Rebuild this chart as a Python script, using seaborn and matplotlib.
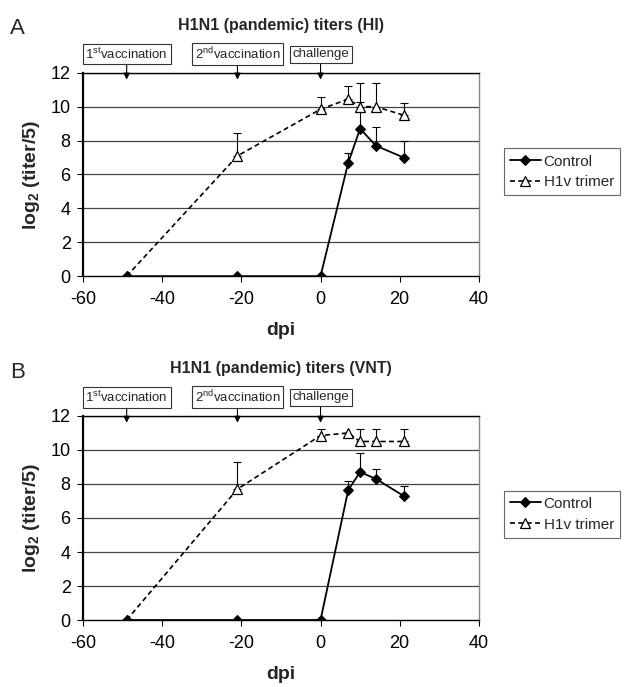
import numpy as np
import pandas as pd
import matplotlib
matplotlib.use("Agg")
import matplotlib.pyplot as plt
import seaborn as sns

sns.set_theme(style="white")
plt.rcParams['font.family'] = ['Liberation Sans', 'DejaVu Sans']
plt.rcParams['axes.unicode_minus'] = False

days = [-49, -21, 0, 7, 10, 14, 21]
series_names = ["Control", "H1v trimer"]

hi_control = [0, 0, 0, 6.7, 8.7, 7.7, 7.0]
hi_control_err = [0, 0, 0, 0.55, 1.6, 1.1, 1.0]
hi_trimer = [0, 7.1, 9.85, 10.45, 10.0, 10.0, 9.5]
hi_trimer_err = [0, 1.35, 0.7, 0.75, 1.4, 1.4, 0.7]

vnt_control = [0, 0, 0, 7.65, 8.7, 8.3, 7.3]
vnt_control_err = [0, 0, 0, 0.55, 1.1, 0.6, 0.6]
vnt_trimer = [0, 7.7, 10.85, 11.0, 10.5, 10.5, 10.5]
vnt_trimer_err = [0, 1.6, 0.4, 0.0, 0.75, 0.75, 0.75]

event_days = [-49, -21, 0]
event_labels = ["1$^{\\mathregular{st}}$vaccination", "2$^{\\mathregular{nd}}$vaccination", "challenge"]

panels = [
    ("A", "H1N1 (pandemic) titers (HI)", hi_control, hi_control_err, hi_trimer, hi_trimer_err),
    ("B", "H1N1 (pandemic) titers (VNT)", vnt_control, vnt_control_err, vnt_trimer, vnt_trimer_err),
]

fig = plt.figure(figsize=(6.3, 6.87), dpi=100)
rects = [[0.132, 0.598, 0.628, 0.296], [0.132, 0.0975, 0.628, 0.297]]
legend_tops = [0.784, 0.286]
letter_y = [1 - 28 / 687, 1 - 372 / 687]

for i, (letter, title, ctl, ctl_e, tri, tri_e) in enumerate(panels):
    ax = fig.add_axes(rects[i])
    df = pd.DataFrame({
        "dpi": days * 2,
        "value": ctl + tri,
        "group": [series_names[0]] * len(days) + [series_names[1]] * len(days),
    })
    for y in range(2, 13, 2):
        ax.axhline(y, color="#444444", lw=0.9, zorder=0)
    # error bars (upper only)
    for vals, errs in [(ctl, ctl_e), (tri, tri_e)]:
        xs = [d for d, e in zip(days, errs) if e > 0]
        ys = [v for v, e in zip(vals, errs) if e > 0]
        es = [e for e in errs if e > 0]
        ax.errorbar(xs, ys, yerr=[np.zeros(len(es)), es], fmt="none",
                    ecolor="black", elinewidth=0.8, capsize=3, capthick=0.8, zorder=2)
    sns.lineplot(data=df[df.group == "Control"], x="dpi", y="value", ax=ax,
                 color="black", lw=1.3, marker="D", markersize=5.5,
                 markerfacecolor="black", markeredgecolor="black",
                 label="Control", zorder=4)
    sns.lineplot(data=df[df.group == "H1v trimer"], x="dpi", y="value", ax=ax,
                 color="black", lw=1.2, linestyle=(0, (3, 2)), marker="^", markersize=7,
                 markerfacecolor="white", markeredgecolor="black", markeredgewidth=0.9,
                 label="H1v trimer", zorder=3)
    ax.set_xlim(-60, 40)
    ax.set_ylim(0, 12)
    ax.set_xticks(range(-60, 41, 20))
    ax.set_yticks(range(0, 13, 2))
    ax.tick_params(axis="both", labelsize=13, direction="out", length=4, width=0.8,
                   colors="black", bottom=True, left=True)
    ax.tick_params(axis="x", pad=7)
    ax.tick_params(axis="y", pad=5)
    ax.set_xlabel("dpi", fontsize=14, fontweight="bold", labelpad=10)
    ax.set_ylabel("log$_{\\mathregular{2}}$ (titer/5)", fontsize=14, fontweight="bold", labelpad=6)
    for s in ["left", "bottom"]:
        ax.spines[s].set_color("black")
    ax.spines["left"].set_linewidth(1.6)
    ax.spines["bottom"].set_linewidth(1.0)
    ax.spines["top"].set_color("black")
    ax.spines["top"].set_linewidth(1.0)
    ax.spines["right"].set_color("#888888")
    ax.spines["right"].set_linewidth(1.0)
    ax.set_title(title, fontsize=11.5, fontweight="bold", pad=31)
    fig.text(0.016, letter_y[i], letter, fontsize=16, ha="left", va="center")
    for d, lab in zip(event_days, event_labels):
        ax.annotate(lab, xy=(d, 11.6), xytext=(d, 13.1), textcoords="data",
                    ha="center", va="center", fontsize=9.5, annotation_clip=False,
                    bbox=dict(boxstyle="square,pad=0.2", fc="white", ec="#333333", lw=0.8),
                    arrowprops=dict(arrowstyle="-|>,head_width=0.2,head_length=0.4",
                                    color="black", lw=0.8, shrinkA=0, shrinkB=0))
    ax.legend(loc="upper left", bbox_to_anchor=(0.80, legend_tops[i]),
              bbox_transform=fig.transFigure, frameon=True, fancybox=False,
              edgecolor="#444444", fontsize=11, handlelength=2.0, borderpad=0.4,
              labelspacing=0.45, handletextpad=0.2, borderaxespad=0)
    ax.get_legend().get_frame().set_linewidth(0.8)

fig.savefig("out.png", dpi=100)
